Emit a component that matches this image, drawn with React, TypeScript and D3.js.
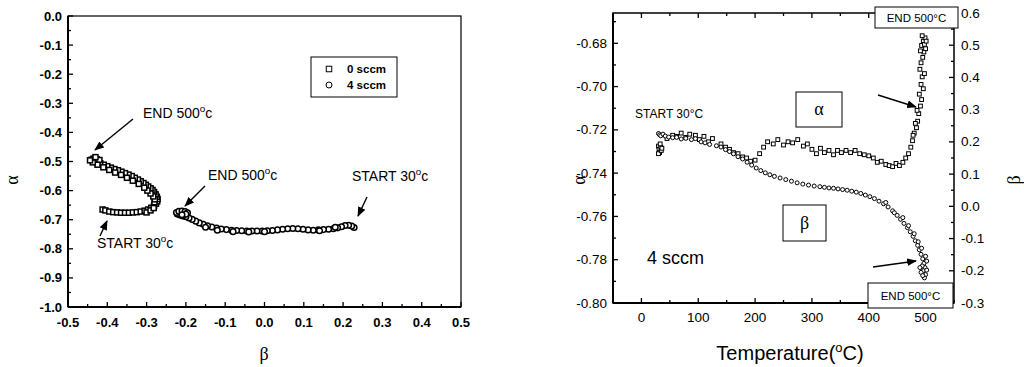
import React from 'react';
import * as d3 from 'd3';

// ---- left panel: alpha vs beta, two flow rates ----
const sccm0: [number, number][] = [
  [-0.412, -0.665], [-0.405, -0.668], [-0.395, -0.672], [-0.385, -0.674], [-0.375, -0.675],
  [-0.365, -0.676], [-0.355, -0.676], [-0.345, -0.676], [-0.335, -0.675], [-0.325, -0.674],
  [-0.315, -0.672], [-0.305, -0.669], [-0.296, -0.665], [-0.288, -0.659], [-0.281, -0.652],
  [-0.276, -0.645], [-0.273, -0.637], [-0.272, -0.629], [-0.274, -0.621], [-0.277, -0.613],
  [-0.281, -0.605], [-0.285, -0.598], [-0.290, -0.592], [-0.296, -0.586], [-0.302, -0.580],
  [-0.308, -0.574], [-0.315, -0.568], [-0.322, -0.562], [-0.330, -0.556], [-0.338, -0.550],
  [-0.346, -0.545], [-0.355, -0.540], [-0.364, -0.535], [-0.373, -0.530], [-0.382, -0.526],
  [-0.391, -0.521], [-0.400, -0.516], [-0.409, -0.511], [-0.418, -0.506], [-0.426, -0.501],
  [-0.433, -0.497], [-0.440, -0.494], [-0.435, -0.490], [-0.427, -0.492], [-0.420, -0.495],
  [-0.300, -0.675], [-0.290, -0.668], [-0.282, -0.660], [-0.280, -0.640], [-0.279, -0.630],
  [-0.283, -0.620], [-0.290, -0.610], [-0.298, -0.600], [-0.306, -0.590], [-0.320, -0.577],
  [-0.335, -0.566], [-0.350, -0.556], [-0.365, -0.546], [-0.380, -0.538], [-0.395, -0.529],
  [-0.410, -0.520], [-0.425, -0.511], [-0.437, -0.503], [-0.444, -0.496], [-0.430, -0.485],
];

const sccm4: [number, number][] = [
  [0.228, -0.727], [0.222, -0.722], [0.214, -0.719], [0.205, -0.720], [0.196, -0.724],
  [0.186, -0.728], [0.175, -0.731], [0.163, -0.733], [0.150, -0.734], [0.137, -0.735],
  [0.124, -0.736], [0.111, -0.735], [0.098, -0.733], [0.085, -0.731], [0.072, -0.730],
  [0.059, -0.731], [0.046, -0.733], [0.033, -0.735], [0.020, -0.737], [0.007, -0.738],
  [-0.006, -0.739], [-0.019, -0.739], [-0.032, -0.739], [-0.045, -0.739], [-0.058, -0.738],
  [-0.071, -0.737], [-0.084, -0.736], [-0.097, -0.734], [-0.110, -0.732], [-0.122, -0.729],
  [-0.134, -0.725], [-0.145, -0.721], [-0.156, -0.716], [-0.166, -0.711], [-0.175, -0.705],
  [-0.184, -0.699], [-0.192, -0.694], [-0.200, -0.690], [-0.208, -0.687], [-0.216, -0.684],
  [-0.222, -0.680], [-0.224, -0.675], [-0.218, -0.671], [-0.210, -0.670], [-0.202, -0.672],
  [-0.196, -0.676], [-0.200, -0.681], [-0.210, -0.683], [-0.150, -0.726], [-0.120, -0.736],
  [-0.080, -0.741], [-0.040, -0.742], [0.000, -0.741], [0.140, -0.738], [0.180, -0.726],
];

// ---- right panel: alpha and beta vs temperature (4 sccm) ----
const alphaT: [number, number][] = [
  [30, -0.7275], [31, -0.729], [32, -0.7305], [34, -0.728], [30, -0.731], [35, -0.7295],
  [33, -0.7265], [36, -0.7285], [45, -0.724], [55, -0.7225], [62, -0.723], [70, -0.7215],
  [78, -0.7235], [85, -0.722], [95, -0.7225], [102, -0.7245], [110, -0.723], [118, -0.7255],
  [125, -0.724], [140, -0.7265], [148, -0.728], [155, -0.729], [162, -0.7305], [170, -0.731],
  [178, -0.7325], [185, -0.733], [192, -0.7345], [200, -0.734], [208, -0.731], [215, -0.728],
  [222, -0.7255], [232, -0.7265], [240, -0.7245], [250, -0.727], [258, -0.7255], [266, -0.726],
  [275, -0.7245], [285, -0.7275], [292, -0.7265], [300, -0.729], [308, -0.731], [315, -0.7285],
  [322, -0.7305], [330, -0.7295], [338, -0.7315], [345, -0.7295], [352, -0.7305], [360, -0.7295],
  [368, -0.7305], [376, -0.7295], [384, -0.731], [392, -0.7315], [400, -0.732], [408, -0.733],
  [415, -0.735], [422, -0.7345], [430, -0.736], [436, -0.7365], [442, -0.737], [448, -0.7355],
  [454, -0.7365], [460, -0.735], [465, -0.733], [470, -0.731], [474, -0.728], [477, -0.725],
  [480, -0.7215], [484, -0.719], [478, -0.7225], [486, -0.716], [482, -0.717], [488, -0.7125],
  [491, -0.709], [485, -0.711], [493, -0.706], [489, -0.7035], [496, -0.701], [492, -0.699],
  [494, -0.6955], [498, -0.694], [490, -0.692], [492, -0.689], [495, -0.6865], [497, -0.684],
  [500, -0.6825], [493, -0.681], [496, -0.679], [499, -0.6775], [491, -0.6835], [498, -0.6805],
  [494, -0.6765], [501, -0.679],
];

const betaT: [number, number][] = [
  [30, 0.226], [32, 0.222], [34, 0.219], [38, 0.224], [42, 0.218], [48, 0.215], [55, 0.213],
  [62, 0.214], [70, 0.209], [78, 0.211], [88, 0.207], [95, 0.21], [105, 0.2], [112, 0.197],
  [120, 0.192], [132, 0.188], [140, 0.184], [148, 0.176], [155, 0.17], [162, 0.163],
  [170, 0.154], [178, 0.147], [186, 0.137], [194, 0.128], [202, 0.119], [210, 0.111],
  [218, 0.104], [226, 0.098], [234, 0.093], [244, 0.088], [254, 0.083], [264, 0.078],
  [274, 0.073], [284, 0.069], [294, 0.066], [304, 0.063], [314, 0.061], [322, 0.059],
  [330, 0.057], [338, 0.056], [346, 0.054], [354, 0.052], [362, 0.05], [370, 0.047],
  [378, 0.044], [386, 0.04], [394, 0.035], [402, 0.03], [410, 0.024], [418, 0.016],
  [426, 0.008], [434, -0.002], [442, -0.014], [450, -0.028], [456, -0.04], [462, -0.053],
  [468, -0.066], [473, -0.079], [478, -0.093], [482, -0.107], [486, -0.121], [489, -0.135],
  [492, -0.149], [495, -0.163], [497, -0.177], [499, -0.19], [494, -0.185], [496, -0.2],
  [500, -0.212], [492, -0.205], [498, -0.222], [502, -0.198], [495, -0.215], [490, -0.19],
  [430, 0.012], [445, -0.02], [460, -0.035], [470, -0.06], [480, -0.085], [487, -0.11],
  [493, -0.13], [500, -0.155], [502, -0.17],
];

const leftXTicks = [-0.5, -0.4, -0.3, -0.2, -0.1, 0.0, 0.1, 0.2, 0.3, 0.4, 0.5];
const leftYTicks = [0.0, -0.1, -0.2, -0.3, -0.4, -0.5, -0.6, -0.7, -0.8, -0.9, -1.0];
const tempTicks = [0, 100, 200, 300, 400, 500];
const alphaTicks = [-0.80, -0.78, -0.76, -0.74, -0.72, -0.70, -0.68];
const betaTicks = [-0.3, -0.2, -0.1, 0.0, 0.1, 0.2, 0.3, 0.4, 0.5, 0.6];
const legendItems = ['0 sccm', '4 sccm'];

const font = 'Liberation Sans, Arial, sans-serif';
const fmt = (d: number, n: number) => (Math.abs(d) < 1e-9 ? 0 : d).toFixed(n);

const Square = ({ x, y, s = 4.5, w = 1 }: { x: number; y: number; s?: number; w?: number }) => (
  <rect x={x - s / 2} y={y - s / 2} width={s} height={s} fill="white" stroke="black" strokeWidth={w} />
);
const Circle = ({ x, y, r = 2.4, w = 1 }: { x: number; y: number; r?: number; w?: number }) => (
  <circle cx={x} cy={y} r={r} fill="white" stroke="black" strokeWidth={w} />
);

const Arrow = ({ x1, y1, x2, y2 }: { x1: number; y1: number; x2: number; y2: number }) => (
  <line x1={x1} y1={y1} x2={x2} y2={y2} stroke="black" strokeWidth={1.4} markerEnd="url(#head)" />
);

// degree label like "END 500°c" with a raised small o
const Deg = ({ x, y, pre, post, size }: { x: number; y: number; pre: string; post: string; size: number }) => (
  <text x={x} y={y} fontSize={size} fontFamily={font}>
    {pre}
    <tspan fontSize={size * 0.7} dy={-size * 0.4}>o</tspan>
    <tspan dy={size * 0.4}>{post}</tspan>
  </text>
);

const App = () => {
  // left panel scales
  const xL = d3.scaleLinear().domain([-0.5, 0.5]).range([68, 461]);
  const yL = d3.scaleLinear().domain([-1, 0]).range([307, 16]);
  const xMinorL = d3.range(-0.5, 0.501, 0.05);
  const yMinorL = d3.range(-1, 0.001, 0.05);

  // right panel scales
  const xR = d3.scaleLinear().domain([-50, 550]).range([613, 954]);
  const yA = d3.scaleLinear().domain([-0.8, -0.666]).range([303, 13]);
  const yB = d3.scaleLinear().domain([-0.3, 0.6]).range([303, 13]);
  const xMinorR = d3.range(-50, 551, 50);
  const aMinor = d3.range(-0.8, -0.665, 0.01);
  const bMinor = d3.range(-0.3, 0.601, 0.05);

  const [lx0, lx1] = xL.range();
  const [ly0, ly1] = [yL(0), yL(-1)];
  const [rx0, rx1] = xR.range();
  const [ry0, ry1] = [yB(0.6), yB(-0.3)];

  return (
    <svg width={1024} height={367} style={{ position: 'absolute', left: 0, top: 0, background: 'white' }}>
      <defs>
        <marker id="head" viewBox="0 0 10 10" refX="9" refY="5" markerWidth="7" markerHeight="7" orient="auto">
          <path d="M0,1 L10,5 L0,9 z" fill="black" />
        </marker>
      </defs>

      {/* ===== left panel ===== */}
      <rect x={lx0} y={ly0} width={lx1 - lx0} height={ly1 - ly0} fill="none" stroke="black" strokeWidth={1.2} />
      <line x1={lx0} y1={ly0} x2={lx0} y2={ly1} stroke="black" strokeWidth={2} />
      <line x1={lx0} y1={ly1} x2={lx1} y2={ly1} stroke="black" strokeWidth={2} />
      {xMinorL.map((v, i) => (
        <line key={'xm' + i} x1={xL(v)} x2={xL(v)} y1={ly1} y2={ly1 - (i % 2 === 0 ? 5 : 3)} stroke="black" strokeWidth={1.3} />
      ))}
      {yMinorL.map((v, i) => (
        <line key={'ym' + i} x1={lx0} x2={lx0 + (i % 2 === 0 ? 5 : 3)} y1={yL(v)} y2={yL(v)} stroke="black" strokeWidth={1.3} />
      ))}
      {leftXTicks.map((v) => (
        <text key={'xt' + v} x={xL(v)} y={327} textAnchor="middle" fontSize={13} fontWeight="bold" fontFamily={font}>
          {fmt(v, 1)}
        </text>
      ))}
      {leftYTicks.map((v) => (
        <text key={'yt' + v} x={62} y={yL(v) + 4.5} textAnchor="end" fontSize={13} fontWeight="bold" fontFamily={font}>
          {fmt(v, 1)}
        </text>
      ))}
      <text x={264} y={360} textAnchor="middle" fontSize={18} fontFamily="Liberation Serif, serif">β</text>
      <text transform="translate(18,180) rotate(-90)" textAnchor="middle" fontSize={18} fontFamily="Liberation Serif, serif">α</text>

      {sccm0.map(([b, a], i) => <Square key={'s0' + i} x={xL(b)} y={yL(a)} s={5} w={1.5} />)}
      {sccm4.map(([b, a], i) => <Circle key={'s4' + i} x={xL(b)} y={yL(a)} r={2.8} w={1.5} />)}

      {/* legend */}
      <rect x={311} y={57} width={86} height={40} fill="white" stroke="black" strokeWidth={1} />
      {legendItems.map((t, i) => (
        <g key={t}>
          {i === 0 ? <Square x={329} y={69} s={5.5} /> : <Circle x={329} y={85} r={3} />}
          <text x={347} y={73 + i * 16} fontSize={11.5} fontWeight="bold" fontFamily={font}>{t}</text>
        </g>
      ))}

      <Deg x={143} y={118} pre="END 500" post="c" size={14} />
      <Arrow x1={133} y1={119} x2={95} y2={150} />
      <Deg x={208} y={180} pre="END 500" post="c" size={14} />
      <Arrow x1={205} y1={186} x2={185} y2={206} />
      <Deg x={97} y={248} pre="START 30" post="c" size={14} />
      <Arrow x1={100} y1={236} x2={107} y2={221} />
      <Deg x={352} y={181} pre="START 30" post="c" size={14} />
      <Arrow x1={367} y1={197} x2={358} y2={216} />

      {/* ===== right panel ===== */}
      <rect x={rx0} y={ry0} width={rx1 - rx0} height={ry1 - ry0} fill="none" stroke="black" strokeWidth={1.5} />
      <line x1={rx0} y1={ry0} x2={rx0} y2={ry1} stroke="black" strokeWidth={2} />
      <line x1={rx0} y1={ry1} x2={rx1} y2={ry1} stroke="black" strokeWidth={2} />
      {xMinorR.map((v, i) => {
        const len = v % 100 === 0 ? 5 : 3;
        return (
          <g key={'rx' + i}>
            <line x1={xR(v)} x2={xR(v)} y1={ry1} y2={ry1 - len} stroke="black" strokeWidth={1.3} />
            <line x1={xR(v)} x2={xR(v)} y1={ry0} y2={ry0 + len} stroke="black" strokeWidth={1.3} />
          </g>
        );
      })}
      {aMinor.map((v, i) => (
        <line key={'am' + i} x1={rx0} x2={rx0 + (i % 2 === 0 ? 5 : 3)} y1={yA(v)} y2={yA(v)} stroke="black" strokeWidth={1.3} />
      ))}
      {bMinor.map((v, i) => (
        <line key={'bm' + i} x1={rx1} x2={rx1 - (i % 2 === 0 ? 5 : 3)} y1={yB(v)} y2={yB(v)} stroke="black" strokeWidth={1.3} />
      ))}
      {tempTicks.map((v) => (
        <text key={'tt' + v} x={xR(v)} y={322} textAnchor="middle" fontSize={13.5} fontFamily={font}>{v}</text>
      ))}
      {alphaTicks.map((v) => (
        <text key={'at' + v} x={607} y={yA(v) + 4.5} textAnchor="end" fontSize={13.5} fontFamily={font}>{fmt(v, 2)}</text>
      ))}
      {betaTicks.map((v) => (
        <text key={'bt' + v} x={961} y={yB(v) + 4.5} textAnchor="start" fontSize={13.5} fontFamily={font}>{fmt(v, 1)}</text>
      ))}
      <text x={790} y={360} textAnchor="middle" fontSize={20} fontFamily={font}>
        Temperature(<tspan fontSize={13} dy={-8}>o</tspan><tspan dy={8}>C)</tspan>
      </text>
      <text transform="translate(585,180) rotate(-90)" textAnchor="middle" fontSize={18} fontFamily="Liberation Serif, serif">α</text>
      <text transform="translate(1020,180) rotate(-90)" textAnchor="middle" fontSize={18} fontFamily="Liberation Serif, serif">β</text>

      {alphaT.map(([t, a], i) => <Square key={'aT' + i} x={xR(t)} y={yA(a)} s={3.8} />)}
      {betaT.map(([t, b], i) => <Circle key={'bT' + i} x={xR(t)} y={yB(b)} r={2} />)}

      <text x={635} y={118} fontSize={12} fontFamily={font}>START 30°C</text>
      <text x={647} y={264} fontSize={18} fontFamily={font}>4 sccm</text>

      <rect x={796} y={92} width={46} height={35} fill="white" stroke="black" strokeWidth={1} />
      <text x={819} y={115} textAnchor="middle" fontSize={18} fontFamily="Liberation Serif, serif">α</text>
      <rect x={783} y={205} width={43} height={36} fill="white" stroke="black" strokeWidth={1} />
      <text x={804.5} y={229} textAnchor="middle" fontSize={18} fontFamily="Liberation Serif, serif">β</text>

      <rect x={875} y={7} width={83} height={21} fill="white" stroke="black" strokeWidth={1} />
      <text x={916.5} y={22} textAnchor="middle" fontSize={11.5} fontFamily={font}>END 500°C</text>
      <rect x={868} y={283} width={85} height={25} fill="white" stroke="black" strokeWidth={1} />
      <text x={910.5} y={300} textAnchor="middle" fontSize={11.5} fontFamily={font}>END 500°C</text>

      <Arrow x1={878} y1={95} x2={916} y2={107} />
      <Arrow x1={873} y1={267} x2={916} y2={261} />
    </svg>
  );
};

export default App;
